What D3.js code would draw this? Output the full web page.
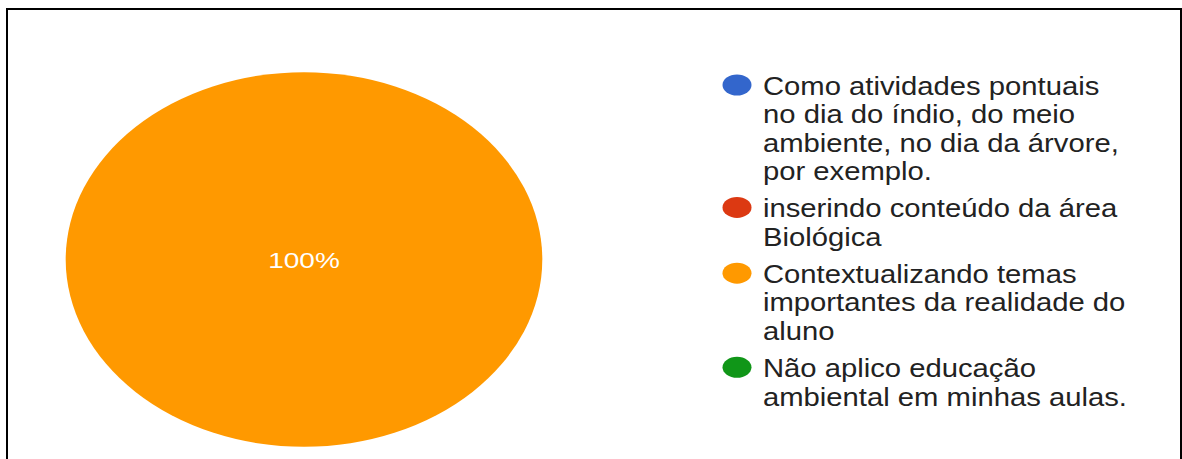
<!DOCTYPE html>
<html>
<head>
<meta charset="utf-8">
<script src="https://cdn.jsdelivr.net/npm/d3@7"></script>
<style>
  html, body { margin: 0; padding: 0; background: #fff; }
  svg { display: block; }
</style>
</head>
<body>
<svg id="chart" width="1182" height="459"></svg>
<script>
// Answer categories, response shares (%) and slice colours
const categories = [
  "Como atividades pontuais no dia do índio, do meio ambiente, no dia da árvore, por exemplo.",
  "inserindo conteúdo da área Biológica",
  "Contextualizando temas importantes da realidade do aluno",
  "Não aplico educação ambiental em minhas aulas."
];
const legendLines = [
  ["Como atividades pontuais", "no dia do índio, do meio", "ambiente, no dia da árvore,", "por exemplo."],
  ["inserindo conteúdo da área", "Biológica"],
  ["Contextualizando temas", "importantes da realidade do", "aluno"],
  ["Não aplico educação", "ambiental em minhas aulas."]
];
const values = [0, 0, 100, 0];
const colors = ["#3366cc", "#dc3912", "#ff9900", "#109618"];

const svg = d3.select("#chart");
const font = "Arial, 'Liberation Sans', sans-serif";

// Frame
svg.append("rect")
  .attr("x", 7).attr("y", 9)
  .attr("width", 1174).attr("height", 480)
  .attr("fill", "none").attr("stroke", "#000").attr("stroke-width", 2);

// Pie (drawn as an ellipse)
const cx = 304, cy = 259.5, ry = 187.3, rx = 238.3;
const pie = d3.pie().sort(null).value(d => d)(values);
const arc = d3.arc().innerRadius(0).outerRadius(ry);
const total = d3.sum(values);

const pieG = svg.append("g")
  .attr("transform", `translate(${cx},${cy}) scale(${rx / ry},1)`);

pieG.selectAll("path")
  .data(pie.filter(d => d.value > 0))
  .join("path")
  .attr("d", arc)
  .attr("fill", d => colors[d.index]);

pieG.selectAll("text")
  .data(pie.filter(d => d.value > 0))
  .join("text")
  .attr("transform", d => {
    const full = d.value === total;
    const [x, y] = full ? [0, 0] : arc.centroid(d);
    return `translate(${x},${y + 8})`;
  })
  .attr("text-anchor", "middle")
  .attr("fill", "#fff")
  .style("font-family", font)
  .style("font-size", "22px")
  .text(d => d3.format(".0%")(d.value / total));

// Legend
const lineH = 28.3, groupGap = 9.2;
const legendX = 737, textX = 763, textScale = 1.17;
let baseline = 95;
const legend = svg.append("g");
legendLines.forEach((lines, i) => {
  const g = legend.append("g");
  g.append("ellipse")
    .attr("cx", legendX).attr("cy", baseline - 10)
    .attr("rx", 14.5).attr("ry", 10.5)
    .attr("fill", colors[i]);
  const t = g.append("g")
    .attr("transform", `translate(${textX},0) scale(${textScale},1)`)
    .append("text")
    .attr("x", 0).attr("y", baseline)
    .attr("fill", "#222")
    .style("font-family", font)
    .style("font-size", "25px");
  lines.forEach((ln, j) => {
    t.append("tspan").attr("x", 0).attr("dy", j === 0 ? 0 : lineH).text(ln);
  });
  baseline += lines.length * lineH + groupGap;
});
</script>
</body>
</html>
